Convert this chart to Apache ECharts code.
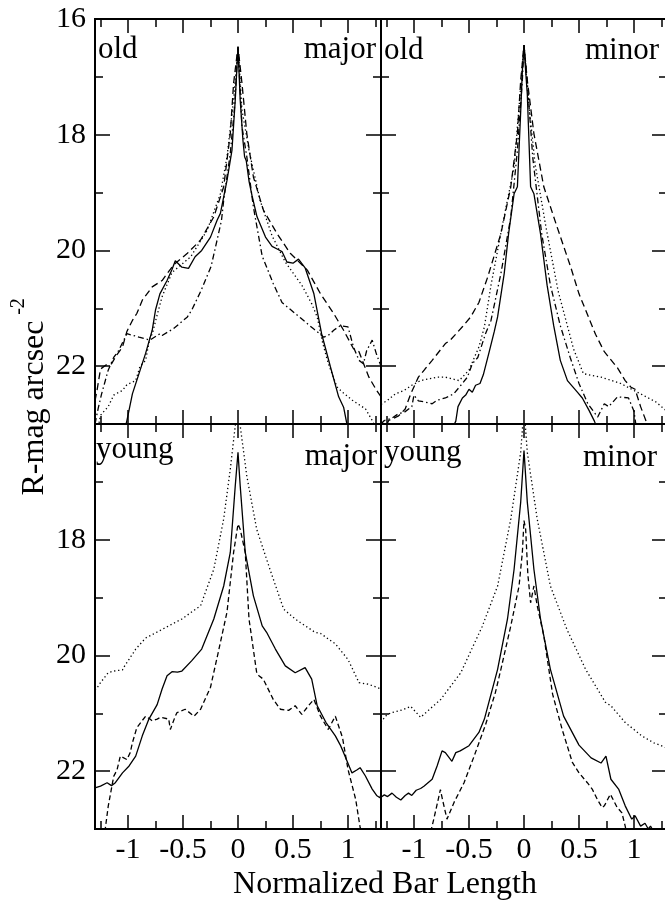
<!DOCTYPE html>
<html><head><meta charset="utf-8">
<script src="https://cdn.jsdelivr.net/npm/echarts@6/dist/echarts.min.js"></script>
<style>html,body{margin:0;padding:0;background:#fff}#c{width:665px;height:907px}</style>
</head><body><div id="c"></div>
<script>
// ---------- tick values ----------
const X_MAJOR = [-1, -0.5, 0, 0.5, 1];
const X_MINOR = [-1.25, -0.75, -0.25, 0.25, 0.75, 1.25];
const Y_MAJOR = [16, 18, 20, 22];
const Y_MINOR = [17, 19, 21];
const Y_LABELS_TOP = [16, 18, 20, 22];
const Y_LABELS_BOTTOM = [18, 20, 22];

// ---------- panel texts ----------
const PANEL_AGE = ['old', 'old', 'young', 'young'];
const PANEL_AXIS = ['major', 'minor', 'major', 'minor'];
const X_TITLE = 'Normalized Bar Length';
const Y_TITLE = 'R-mag arcsec';
const Y_TITLE_SUP = '-2';

// ---------- old, major axis ----------
const oldMajorSolid = [[-1.03,23.1],[-1.01,22.94],[-0.96,22.48],[-0.9,22.13],[-0.84,21.78],[-0.78,21.38],[-0.75,21.03],[-0.71,20.75],[-0.645,20.52],[-0.6,20.33],[-0.57,20.18],[-0.51,20.29],[-0.45,20.31],[-0.39,20.11],[-0.33,20.0],[-0.25,19.77],[-0.19,19.48],[-0.16,19.36],[-0.1,18.79],[-0.055,18.27],[-0.025,17.4],[0,16.48],[0.02,17.4],[0.045,18.1],[0.06,18.38],[0.075,18.45],[0.1,18.8],[0.127,19.05],[0.173,19.42],[0.25,19.77],[0.31,19.93],[0.36,19.98],[0.4,20.02],[0.445,20.2],[0.5,20.22],[0.55,20.15],[0.61,20.3],[0.69,20.75],[0.76,21.44],[0.84,22.01],[0.915,22.53],[0.96,22.71],[0.99,23.0],[1.0,23.1]];
const oldMajorDashed = [[-1.3,22.6],[-1.28,22.4],[-1.25,22.05],[-1.2,21.98],[-1.15,21.96],[-1.1,21.8],[-1.05,21.67],[-1.01,21.4],[-0.96,21.21],[-0.92,21.09],[-0.87,20.86],[-0.78,20.63],[-0.69,20.52],[-0.585,20.25],[-0.46,20.05],[-0.34,19.82],[-0.22,19.42],[-0.13,18.9],[-0.07,17.98],[-0.04,17.11],[0,16.48],[0.036,17.11],[0.08,17.98],[0.14,18.73],[0.23,19.3],[0.355,19.71],[0.475,20.05],[0.63,20.34],[0.75,20.75],[0.87,21.09],[0.96,21.38],[1.05,21.7],[1.1,21.75],[1.14,21.95],[1.19,22.19],[1.26,22.42],[1.3,22.53]];
const oldMajorDotted = [[-1.27,23.05],[-1.25,22.85],[-1.18,22.7],[-1.13,22.5],[-1.05,22.42],[-1.01,22.32],[-0.93,22.25],[-0.89,22.0],[-0.84,21.9],[-0.8,21.5],[-0.78,21.45],[-0.74,21.15],[-0.69,20.8],[-0.6,20.38],[-0.43,20.11],[-0.28,19.65],[-0.16,19.02],[-0.1,18.38],[-0.04,17.4],[0,16.48],[0.036,17.57],[0.1,18.27],[0.2,19.13],[0.31,19.75],[0.43,20.2],[0.58,20.6],[0.67,20.92],[0.72,21.15],[0.77,21.6],[0.82,21.95],[0.9,22.36],[0.95,22.45],[1.04,22.59],[1.16,22.74],[1.22,22.94],[1.25,23.05]];
const oldMajorDashDot = [[-1.3,23.0],[-1.27,22.72],[-1.24,22.48],[-1.18,22.07],[-1.13,21.85],[-1.085,21.73],[-1.01,21.44],[-0.95,21.47],[-0.9,21.5],[-0.8,21.55],[-0.71,21.44],[-0.69,21.47],[-0.585,21.35],[-0.46,21.15],[-0.42,21.03],[-0.335,20.69],[-0.245,20.28],[-0.19,19.82],[-0.15,19.48],[-0.13,19.13],[-0.07,18.32],[-0.03,17.5],[0,16.48],[0.036,17.86],[0.08,18.38],[0.14,19.25],[0.22,20.1],[0.32,20.57],[0.4,20.9],[0.57,21.17],[0.69,21.36],[0.78,21.5],[0.82,21.47],[0.87,21.38],[0.93,21.3],[1.0,21.32],[1.05,21.67],[1.1,21.9],[1.14,21.96],[1.17,21.73],[1.22,21.55],[1.26,21.8],[1.3,22.0]];

// ---------- old, minor axis ----------
const oldMinorSolid = [[-0.645,23.05],[-0.62,22.95],[-0.6,22.7],[-0.56,22.55],[-0.53,22.5],[-0.5,22.4],[-0.47,22.45],[-0.44,22.33],[-0.4,22.3],[-0.37,22.15],[-0.32,21.78],[-0.27,21.4],[-0.24,21.15],[-0.18,20.4],[-0.14,19.71],[-0.09,19.02],[-0.06,18.9],[-0.03,17.6],[-0.015,16.9],[0,16.45],[0.015,16.9],[0.03,17.3],[0.06,18.9],[0.09,19.02],[0.15,19.71],[0.21,20.6],[0.27,21.3],[0.33,21.9],[0.395,22.25],[0.44,22.35],[0.485,22.45],[0.53,22.55],[0.59,22.76],[0.64,22.95],[0.66,23.05]];
const oldMinorDashed = [[-1.25,23.02],[-1.23,22.94],[-1.14,22.86],[-1.08,22.74],[-1.03,22.48],[-0.96,22.19],[-0.9,22.05],[-0.835,21.9],[-0.715,21.61],[-0.67,21.55],[-0.56,21.32],[-0.485,21.15],[-0.41,20.9],[-0.33,20.46],[-0.21,19.71],[-0.12,18.9],[-0.06,17.98],[-0.03,17.06],[0,16.45],[0.03,17.06],[0.09,17.98],[0.18,18.9],[0.3,19.59],[0.425,20.29],[0.5,20.75],[0.575,21.1],[0.65,21.45],[0.73,21.75],[0.85,22.03],[0.92,22.25],[0.97,22.36],[1.01,22.4],[1.06,22.7],[1.12,23.0],[1.14,23.05]];
const oldMinorDotted = [[-1.3,22.66],[-1.24,22.59],[-1.17,22.48],[-1.09,22.42],[-1.02,22.33],[-0.94,22.25],[-0.87,22.22],[-0.79,22.19],[-0.715,22.19],[-0.59,22.25],[-0.5,22.07],[-0.485,22.0],[-0.41,21.67],[-0.36,21.32],[-0.3,20.6],[-0.2,19.6],[-0.09,18.56],[-0.03,17.17],[0,16.45],[0.03,17.2],[0.1,18.5],[0.2,19.6],[0.31,20.7],[0.45,21.7],[0.54,22.13],[0.7,22.19],[0.88,22.3],[1.06,22.48],[1.2,22.62],[1.3,22.78]];
const oldMinorDashDot = [[-1.3,23.0],[-1.27,22.94],[-1.2,22.9],[-1.14,22.82],[-1.09,22.8],[-1.02,22.7],[-1.0,22.5],[-0.96,22.6],[-0.9,22.62],[-0.835,22.65],[-0.79,22.59],[-0.715,22.55],[-0.64,22.48],[-0.56,22.3],[-0.515,22.19],[-0.47,21.96],[-0.42,21.85],[-0.35,21.44],[-0.3,21.21],[-0.21,20.4],[-0.12,19.42],[-0.06,18.27],[-0.015,17.06],[0,16.45],[0.03,17.1],[0.08,18.4],[0.16,19.7],[0.24,20.6],[0.33,21.3],[0.42,21.85],[0.5,22.3],[0.58,22.65],[0.67,22.88],[0.73,22.65],[0.77,22.7],[0.85,22.53],[0.95,22.55],[1.0,22.78],[1.02,23.05]];

// ---------- young, major axis ----------
const youngMajorSolid = [[-1.3,22.29],[-1.25,22.26],[-1.19,22.2],[-1.15,22.25],[-1.115,22.2],[-1.05,22.03],[-0.99,21.91],[-0.93,21.74],[-0.87,21.39],[-0.81,21.1],[-0.735,20.85],[-0.69,20.58],[-0.645,20.35],[-0.6,20.28],[-0.55,20.29],[-0.51,20.27],[-0.42,20.09],[-0.33,19.89],[-0.22,19.37],[-0.13,18.8],[-0.07,18.22],[-0.025,17.07],[0,16.49],[0.02,17.07],[0.066,18.22],[0.14,18.97],[0.22,19.49],[0.26,19.6],[0.34,19.89],[0.43,20.18],[0.52,20.3],[0.61,20.21],[0.67,20.41],[0.72,20.87],[0.8,21.16],[0.885,21.39],[0.93,21.55],[0.96,21.68],[1.036,22.03],[1.08,21.98],[1.11,21.94],[1.157,22.08],[1.22,22.31],[1.26,22.42],[1.29,22.46],[1.3,22.4]];
const youngMajorDashed = [[-1.21,23.05],[-1.2,22.9],[-1.18,22.61],[-1.13,22.09],[-1.1,21.98],[-1.07,21.74],[-1.01,21.8],[-0.98,21.68],[-0.96,21.51],[-0.92,21.25],[-0.84,21.05],[-0.8,21.1],[-0.78,21.13],[-0.735,21.1],[-0.705,21.07],[-0.63,21.1],[-0.615,21.28],[-0.6,21.28],[-0.57,21.05],[-0.555,20.99],[-0.48,20.93],[-0.4,21.05],[-0.34,20.93],[-0.25,20.55],[-0.18,19.95],[-0.1,19.25],[-0.04,18.22],[0,17.73],[0.02,17.82],[0.066,18.22],[0.1,19.37],[0.17,20.3],[0.19,20.35],[0.23,20.41],[0.32,20.76],[0.385,20.93],[0.46,20.95],[0.52,20.87],[0.58,21.02],[0.64,20.87],[0.69,20.76],[0.75,21.05],[0.82,21.28],[0.885,21.05],[0.95,21.42],[1.0,21.97],[1.07,22.49],[1.11,22.97],[1.12,23.05]];
const youngMajorDotted = [[-1.3,20.6],[-1.27,20.53],[-1.25,20.47],[-1.18,20.3],[-1.13,20.27],[-1.05,20.25],[-1.04,20.21],[-0.95,19.95],[-0.93,19.89],[-0.84,19.7],[-0.69,19.55],[-0.51,19.37],[-0.34,19.14],[-0.22,18.51],[-0.13,17.64],[-0.07,16.78],[-0.025,16.03],[0,15.7],[0.02,16.03],[0.08,16.9],[0.17,17.82],[0.29,18.51],[0.415,19.2],[0.52,19.37],[0.566,19.43],[0.7,19.6],[0.75,19.62],[0.885,19.8],[1.0,20.07],[1.1,20.47],[1.19,20.5],[1.3,20.58]];

// ---------- young, minor axis ----------
const youngMinorSolid = [[-1.3,22.45],[-1.27,22.41],[-1.24,22.44],[-1.2,22.38],[-1.16,22.45],[-1.12,22.5],[-1.08,22.42],[-1.05,22.38],[-1.02,22.42],[-0.98,22.33],[-0.94,22.3],[-0.91,22.26],[-0.835,22.14],[-0.79,21.91],[-0.745,21.65],[-0.715,21.68],[-0.655,21.83],[-0.62,21.68],[-0.58,21.65],[-0.5,21.56],[-0.41,21.33],[-0.36,21.1],[-0.24,20.24],[-0.15,19.37],[-0.09,18.51],[-0.03,17.35],[0,16.46],[0.03,17.35],[0.09,18.51],[0.15,19.37],[0.24,20.24],[0.36,21.05],[0.5,21.55],[0.61,21.77],[0.7,21.86],[0.745,21.74],[0.79,22.14],[0.86,22.31],[0.92,22.6],[0.98,22.83],[1.01,22.77],[1.06,22.95],[1.1,22.9],[1.13,23.0],[1.15,22.95],[1.18,23.05]];
const youngMinorDashed = [[-0.85,23.05],[-0.835,22.95],[-0.8,22.66],[-0.76,22.32],[-0.74,22.5],[-0.7,22.83],[-0.685,22.8],[-0.636,22.54],[-0.545,22.2],[-0.455,21.75],[-0.35,21.2],[-0.26,20.64],[-0.21,20.24],[-0.12,19.49],[-0.045,18.8],[-0.015,18.22],[0,17.67],[0.015,17.82],[0.035,18.6],[0.06,19.09],[0.09,18.8],[0.12,19.14],[0.18,19.66],[0.26,20.67],[0.35,21.3],[0.44,21.85],[0.5,22.03],[0.576,22.2],[0.62,22.31],[0.667,22.49],[0.71,22.63],[0.73,22.6],[0.785,22.4],[0.845,22.62],[0.89,22.72],[0.92,22.95],[0.93,23.05]];
const youngMinorDotted = [[-1.3,21.16],[-1.26,21.05],[-1.21,20.99],[-1.14,20.96],[-1.09,20.93],[-1.03,20.88],[-0.94,21.07],[-0.925,21.07],[-0.757,20.76],[-0.575,20.3],[-0.38,19.5],[-0.24,18.8],[-0.12,17.64],[-0.03,16.49],[0,15.7],[0.03,16.49],[0.12,17.64],[0.24,18.8],[0.39,19.55],[0.56,20.24],[0.74,20.81],[0.79,20.87],[0.92,21.16],[1.0,21.28],[1.07,21.39],[1.18,21.51],[1.3,21.6]];

// ---------- build ----------
const FONT = 'Liberation Serif';
const panels = [
  {grid:{left:95, top:19, width:286, height:405}, xLabels:false, yLabels:Y_LABELS_TOP,
   lines:[[oldMajorSolid,'solid'],[oldMajorDashed,'dashed'],[oldMajorDotted,'dotted'],[oldMajorDashDot,'dashdot']]},
  {grid:{left:381, top:19, width:286, height:405}, xLabels:false, yLabels:null,
   lines:[[oldMinorSolid,'solid'],[oldMinorDashed,'dashed'],[oldMinorDotted,'dotted'],[oldMinorDashDot,'dashdot']]},
  {grid:{left:95, top:424, width:286, height:405}, xLabels:true, yLabels:Y_LABELS_BOTTOM,
   lines:[[youngMajorSolid,'solid'],[youngMajorDashed,'dashed2'],[youngMajorDotted,'dotted']]},
  {grid:{left:381, top:424, width:286, height:405}, xLabels:true, yLabels:null,
   lines:[[youngMinorSolid,'solid'],[youngMinorDashed,'dashed2'],[youngMinorDotted,'dotted']]}
];
const DASH = {solid:'solid', dashed:[7,4], dashed2:[5,3], dotted:[1.3,2.7], dashdot:[6,3,1.5,3]};

const grid = [], xAxis = [], yAxis = [], series = [];
const tick = (len, vals) => ({show:true, inside:true, length:len, customValues:vals, lineStyle:{color:'#000', width:1.5}});
const noLine = {show:false, onZero:false};
panels.forEach((p, gi) => {
  grid.push(Object.assign({show:true, borderColor:'#000', borderWidth:2, backgroundColor:'transparent',
    containLabel:false, outerBoundsMode:'none'}, p.grid));
  const xb = {type:'value', gridIndex:gi, min:-1.3, max:1.3, axisLine:noLine, splitLine:{show:false}};
  const xLab = {show:p.xLabels, customValues:X_MAJOR, color:'#000', fontFamily:FONT, fontSize:30, margin:6};
  xAxis.push(Object.assign({}, xb, {position:'bottom', axisTick:tick(14, X_MAJOR), axisLabel:xLab}));
  xAxis.push(Object.assign({}, xb, {position:'bottom', axisTick:tick(8, X_MINOR), axisLabel:{show:false}}));
  xAxis.push(Object.assign({}, xb, {position:'top', axisTick:tick(14, X_MAJOR), axisLabel:{show:false}}));
  xAxis.push(Object.assign({}, xb, {position:'top', axisTick:tick(8, X_MINOR), axisLabel:{show:false}}));
  const yb = {type:'value', gridIndex:gi, min:16, max:23, inverse:true, axisLine:noLine, splitLine:{show:false}};
  const yLab = p.yLabels ? {show:true, customValues:p.yLabels, color:'#000', fontFamily:FONT, fontSize:30, margin:9} : {show:false};
  yAxis.push(Object.assign({}, yb, {position:'left', axisTick:tick(15, Y_MAJOR), axisLabel:yLab}));
  yAxis.push(Object.assign({}, yb, {position:'left', axisTick:tick(8, Y_MINOR), axisLabel:{show:false}}));
  yAxis.push(Object.assign({}, yb, {position:'right', axisTick:tick(15, Y_MAJOR), axisLabel:{show:false}}));
  yAxis.push(Object.assign({}, yb, {position:'right', axisTick:tick(8, Y_MINOR), axisLabel:{show:false}}));
  p.lines.forEach(([data, kind]) => {
    series.push({type:'line', xAxisIndex:gi*4, yAxisIndex:gi*4, data:data, showSymbol:false, symbol:'none',
      clip:true, silent:true, lineStyle:{color:'#000', width:1.3, type:DASH[kind]}});
  });
});

function txt(x, y, s, size, align, rot) {
  return {type:'text', x:x, y:y, rotation:rot||0, silent:true,
    style:{text:s, fill:'#000', fontFamily:FONT, fontSize:size, align:align, verticalAlign:'middle',
      textAlign:align, textVerticalAlign:'middle'}};
}
const graphic = [
  txt(98, 49.5, PANEL_AGE[0], 31, 'left'),
  txt(376, 49.5, PANEL_AXIS[0], 31, 'right'),
  txt(384, 50.5, PANEL_AGE[1], 31, 'left'),
  txt(659, 50.5, PANEL_AXIS[1], 31, 'right'),
  txt(96, 449.5, PANEL_AGE[2], 31, 'left'),
  txt(377, 456.5, PANEL_AXIS[2], 31, 'right'),
  txt(384, 452.5, PANEL_AGE[3], 31, 'left'),
  txt(657, 457.5, PANEL_AXIS[3], 31, 'right'),
  txt(385, 885, X_TITLE, 32, 'center'),
  txt(34.2, 408, Y_TITLE, 32, 'center', Math.PI/2),
  txt(18.5, 306.5, Y_TITLE_SUP, 20, 'center', Math.PI/2)
];

const chart = echarts.init(document.getElementById('c'), null, {renderer:'canvas'});
chart.setOption({animation:false, backgroundColor:'#fff', grid, xAxis, yAxis, series, graphic});
</script></body></html>
